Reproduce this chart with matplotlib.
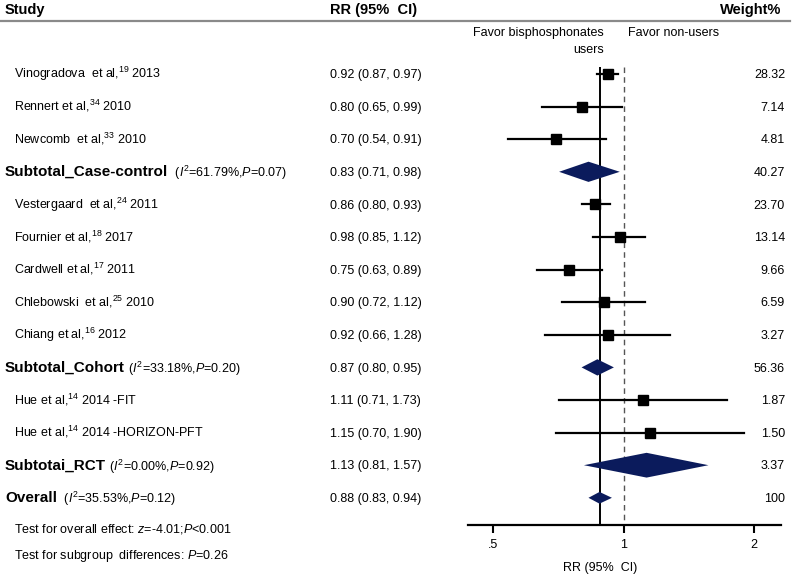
import matplotlib
matplotlib.use("Agg")
import matplotlib.pyplot as plt
import matplotlib.transforms as mtransforms

plt.rcParams["font.family"] = ["Liberation Sans", "DejaVu Sans"]
plt.rcParams["mathtext.fontset"] = "custom"
plt.rcParams["mathtext.rm"] = "Liberation Sans"
plt.rcParams["mathtext.it"] = "Liberation Sans:italic"
plt.rcParams["mathtext.bf"] = "Liberation Sans:bold"

# ---- data -------------------------------------------------------------
labels = [
    "Vinogradova  et al,$^{19}$ 2013",
    "Rennert et al,$^{34}$ 2010",
    "Newcomb  et al,$^{33}$ 2010",
    "Subtotal_Case-control",
    "Vestergaard  et al,$^{24}$ 2011",
    "Fournier et al,$^{18}$ 2017",
    "Cardwell et al,$^{17}$ 2011",
    "Chlebowski  et al,$^{25}$ 2010",
    "Chiang et al,$^{16}$ 2012",
    "Subtotal_Cohort",
    "Hue et al,$^{14}$ 2014 -FIT",
    "Hue et al,$^{14}$ 2014 -HORIZON-PFT",
    "Subtotai_RCT",
    "Overall",
]
rr = [0.92, 0.80, 0.70, 0.83, 0.86, 0.98, 0.75, 0.90, 0.92, 0.87, 1.11, 1.15, 1.13, 0.88]
lo = [0.87, 0.65, 0.54, 0.71, 0.80, 0.85, 0.63, 0.72, 0.66, 0.80, 0.71, 0.70, 0.81, 0.83]
hi = [0.97, 0.99, 0.91, 0.98, 0.93, 1.12, 0.89, 1.12, 1.28, 0.95, 1.73, 1.90, 1.57, 0.94]
weights = ["28.32", "7.14", "4.81", "40.27", "23.70", "13.14", "9.66",
           "6.59", "3.27", "56.36", "1.87", "1.50", "3.37", "100"]
pooled = [False, False, False, True, False, False, False, False, False, True,
          False, False, True, True]
i2 = {3: "61.79", 9: "33.18", 12: "0.00", 13: "35.53"}
p_het = {3: "0.07", 9: "0.20", 12: "0.92", 13: "0.12"}
overall_z = "-4.01"
overall_p = "<0.001"
subgroup_p = "0.26"

# diamond half-heights (row units), matches the drawing
diamond_half = {3: 0.31, 9: 0.25, 12: 0.38, 13: 0.18}

W, H = 796, 576
NAVY = "#0b1b5c"
FS = 9

fig = plt.figure(figsize=(W / 100, H / 100), dpi=100)
# axes spans pixel x 468..781, y 21..525 ; row i sits at 74 + 32.6 i px
row_h = 32.6
y_top_px, y_bot_px = 21, 525
ax = fig.add_axes([468 / W, 1 - y_bot_px / H, (781 - 468) / W, (y_bot_px - y_top_px) / H])
ax.set_xscale("log", base=2)
ax.set_xlim(0.4376, 2.308)
ylim_bot = (y_bot_px - 74) / row_h
ylim_top = (y_top_px - 74) / row_h
ax.set_ylim(ylim_bot, ylim_top)

for s in ["top", "left", "right"]:
    ax.spines[s].set_visible(False)
ax.spines["bottom"].set_linewidth(1.6)
ax.set_yticks([])
ax.set_xticks([0.5, 1, 2])
ax.set_xticklabels([".5", "1", "2"])
ax.minorticks_off()
ax.tick_params(axis="x", direction="out", length=6, width=1.5, pad=4, labelsize=9)

# reference lines
vtop = (67 - 74) / row_h
ax.vlines(rr[-1], vtop, ylim_bot, color="black", lw=1.4, zorder=1)
ax.vlines(1.0, vtop, ylim_bot, color="#555555", lw=1.0, linestyles=(0, (4, 3)), zorder=1)

# studies and diamonds
for i in range(len(rr)):
    if pooled[i]:
        h = diamond_half[i]
        ax.fill([lo[i], rr[i], hi[i], rr[i]], [i, i - h, i, i + h],
                color=NAVY, lw=0, zorder=3)
    else:
        ax.plot([lo[i], hi[i]], [i, i], color="black", lw=1.6, zorder=2)
        ax.plot(rr[i], i, marker="s", ms=7.8, color="black", zorder=3)

# text columns
blend = mtransforms.blended_transform_factory(fig.transFigure, ax.transData)


def fx(px):
    return px / W


def row_of(px):
    return (px - 74) / row_h


# header
ax.text(fx(5), row_of(10), "Study", transform=blend, fontsize=10.5, fontweight="bold",
        va="center", ha="left", clip_on=False)
ax.text(fx(330), row_of(10), "RR (95%  CI)", transform=blend, fontsize=10.5, fontweight="bold",
        va="center", ha="left", clip_on=False)
ax.text(fx(781), row_of(10), "Weight%", transform=blend, fontsize=10.5, fontweight="bold",
        va="center", ha="right", clip_on=False)
ax.plot([0, fx(790)], [row_of(21), row_of(21)], transform=blend, color="#8a8a8a",
        lw=1.6, clip_on=False)

ax.text(fx(604), row_of(33), "Favor bisphosphonates", transform=blend, fontsize=FS,
        va="center", ha="right", clip_on=False)
ax.text(fx(604), row_of(50), "users", transform=blend, fontsize=FS,
        va="center", ha="right", clip_on=False)
ax.text(fx(628), row_of(33), "Favor non-users", transform=blend, fontsize=FS,
        va="center", ha="left", clip_on=False)

for i, lab in enumerate(labels):
    if pooled[i]:
        t = ax.text(fx(5), i, lab, transform=blend, fontsize=11, fontweight="bold",
                    va="baseline", ha="left", clip_on=False)
        het = "  ($\\mathit{I}^2$=" + i2[i] + "%,$\\mathit{P}$=" + p_het[i] + ")"
        if i == 9 or i == 12:
            het = het[1:]
        ax.annotate(het, xy=(1, 0), xycoords=t, fontsize=FS, va="baseline", ha="left",
                    annotation_clip=False)
    else:
        ax.text(fx(14), i, lab, transform=blend, fontsize=FS,
                va="baseline", ha="left", clip_on=False)
    ax.text(fx(330), i, f"{rr[i]:.2f} ({lo[i]:.2f}, {hi[i]:.2f})", transform=blend,
            fontsize=FS, va="baseline", ha="left", clip_on=False)
    ax.text(fx(785), i, weights[i], transform=blend, fontsize=FS,
            va="baseline", ha="right", clip_on=False)

# shift baseline texts so they sit centred on their row
for t in ax.texts:
    if t.get_va() == "baseline":
        t.set_y(t.get_position()[1] + 0.13)

ax.text(fx(14), row_of(529), "Test for overall effect: $\\mathit{z}$=" + overall_z +
        ";$\\mathit{P}$" + overall_p, transform=blend, fontsize=FS, va="center",
        ha="left", clip_on=False)
ax.text(fx(14), row_of(556), "Test for subgroup  differences: $\\mathit{P}$=" + subgroup_p,
        transform=blend, fontsize=FS, va="center", ha="left", clip_on=False)

ax.text(fx(600), row_of(568), "RR (95%  CI)", transform=blend, fontsize=9,
        va="center", ha="center", clip_on=False)

fig.savefig("out.png", dpi=100)
